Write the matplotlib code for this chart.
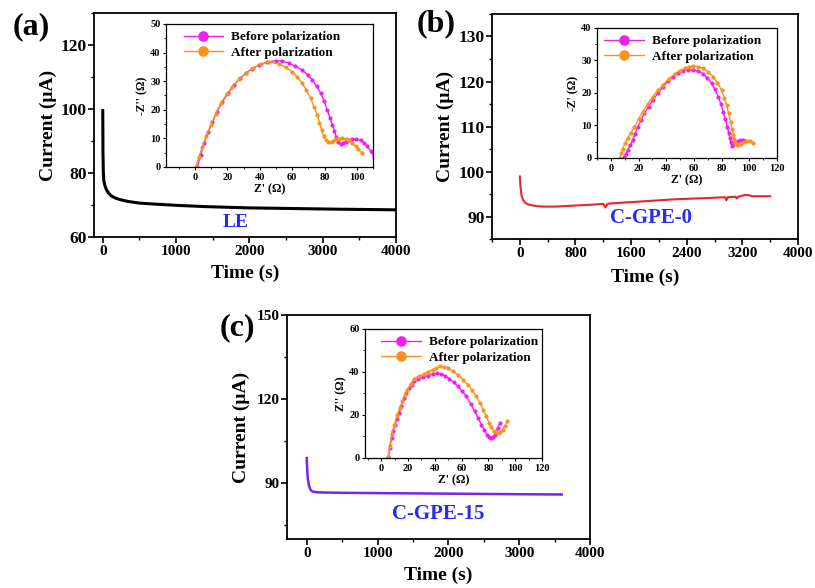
import numpy as np
import matplotlib
matplotlib.use("Agg")
import matplotlib.pyplot as plt
from matplotlib.ticker import MultipleLocator

plt.rcParams['font.family'] = ['Liberation Serif', 'DejaVu Serif']
plt.rcParams['font.weight'] = 'bold'
plt.rcParams['axes.labelweight'] = 'bold'

# ---------------- polarization current vs time ----------------
t_le = [0, 3, 8, 15, 30, 50, 80, 120, 180, 250, 350, 500, 700, 1000, 1400, 2000, 2600, 3200, 4000]
i_le = [99.5, 86, 80, 77.5, 76, 74.8, 73.7, 72.8, 72.1, 71.6, 71.1, 70.6, 70.3, 69.9, 69.5, 69.1, 68.9, 68.7, 68.5]

t_gpe0 = [0, 10, 25, 50, 80, 120, 170, 250, 360, 500, 750, 1000, 1200, 1230, 1260, 1300, 1500, 1700,
          2000, 2200, 2500, 2700, 2950, 2970, 2990, 3100, 3120, 3140, 3240, 3300, 3340, 3600]
i_gpe0 = [98.9, 96.5, 94.6, 93.6, 93.0, 92.7, 92.5, 92.3, 92.2, 92.2, 92.4, 92.6, 92.8, 92.0, 92.8, 92.9, 93.1, 93.3,
          93.6, 93.8, 94.0, 94.1, 94.3, 93.6, 94.3, 94.4, 94.0, 94.4, 94.8, 94.7, 94.5, 94.5]

t_gpe15 = [0, 5, 15, 30, 45, 60, 80, 110, 150, 250, 500, 1000, 1500, 2000, 2500, 3000, 3600]
i_gpe15 = [98.9, 95, 91.5, 89.2, 88.0, 87.4, 87.0, 86.8, 86.7, 86.6, 86.5, 86.4, 86.3, 86.2, 86.1, 86.0, 85.9]

# ---------------- Nyquist plots (Z', -Z'') ----------------
le_before_re = [1.4, 3.5, 5.6, 8, 10.7, 13.7, 16.9, 20.5, 24.1, 27.7, 31.3, 35.4, 39.5, 44.5, 49.8, 54, 58, 62, 66.2, 69.5,
                72.4, 75.2, 77.6, 79.8, 81.7, 83.3, 84.8, 86.1, 87.2, 88.5, 89.9, 91.5, 93, 95, 97.1, 99.7, 102.3,
                104.4, 106.4, 108.5, 110.5]
le_before_im = [0.1, 4.3, 8.3, 12.2, 15.8, 19.4, 22.8, 25.9, 28.7, 31, 32.8, 34.4, 35.7, 36.6, 37.2, 37, 36.3, 35.3, 33.9,
                32.3, 30.4, 28.2, 25.8, 22.9, 19.9, 17.3, 14.7, 12.6, 10.6, 8.9, 8.0, 8.3, 8.9, 9.4, 9.7, 9.7, 9.4,
                8.5, 7.3, 5.6, 3.6]
le_after_re = [0.4, 2.4, 4.5, 7, 9.7, 12.7, 15.9, 19.4, 23, 27.1, 31.3, 35.9, 40.5, 45.7, 51.9, 56, 60.1, 63.2, 66.2, 68.8,
               71.4, 73.5, 75.5, 76.9, 78.2, 79.4, 80.7, 82.2, 83.8, 85.3, 86.9, 88.9, 90.9, 93, 95, 97.1, 99.2, 101,
               102.9]
le_after_im = [0, 3.6, 7.1, 11, 14.7, 18.6, 22.3, 25.4, 28.1, 30.6, 32.8, 34.6, 36, 36.7, 36, 34.8, 33.3, 31.4, 29.3, 26.8,
               24, 21.1, 18.2, 15.5, 12.9, 10.9, 9.4, 8.9, 8.8, 9.2, 9.7, 9.9, 10, 9.8, 9.4, 8.5, 7.3, 6.2, 5.0]

g0_before_re = [9.7, 10.9, 12.1, 14, 15.8, 17.6, 19.4, 21.8, 24.2, 27.2, 30.3, 34, 37.6, 41.2, 44.9, 48.5, 52.1, 55.7,
                59.4, 63, 66.7, 69.7, 72.7, 75.2, 77.6, 79.4, 81.2, 82.7, 84.1, 85.1, 86, 86.7, 87.3, 88.5, 89.7, 91.5,
                93.3, 95.1, 96.9]
g0_before_im = [0.3, 1.3, 2.4, 3.9, 5.5, 7.5, 9.6, 11.6, 13.7, 15.8, 17.8, 19.9, 21.9, 23.6, 25, 26.1, 26.9, 27.1, 27.1,
                26.7, 25.9, 24.6, 23, 21.1, 18.9, 16.6, 14.2, 11.9, 9.6, 7.8, 6, 4.8, 3.6, 4.3, 4.9, 5.2, 5.5, 5.4, 5.3]
g0_after_re = [6.5, 7.5, 8.5, 10.3, 12.1, 14.5, 17, 20, 23, 26.6, 30.3, 34, 37.6, 41.8, 46, 49.6, 53.3, 56.3, 59.4, 63,
               66.7, 70.3, 74, 77, 80, 81.8, 83.6, 85, 86.5, 87.5, 88.5, 89.1, 89.7, 90.9, 92.1, 94, 95.8, 98.2, 100.6,
               103]
g0_after_im = [0.1, 1.5, 2.9, 4.5, 6, 7.8, 9.6, 11.9, 14.2, 16.6, 18.9, 20.8, 22.5, 24.3, 25.9, 26.9, 27.6, 28.1, 28.3,
               28.1, 27.6, 26.5, 25, 23.1, 20.9, 18.6, 16.3, 13.7, 11.1, 9, 7, 5.7, 4.5, 4.1, 3.9, 4.4, 4.9, 5.2, 5.3, 4.6]

g15_before_re = [5.3, 6.5, 7.8, 9, 10.3, 11.8, 13.3, 15.1, 17, 18.9, 20.8, 22.7, 24.6, 27.7, 30.9, 34.6, 38.4, 41.5, 44.7,
                 47.8, 50.9, 54.1, 57.3, 60.4, 63.5, 66.7, 69.8, 72.3, 74.8, 77, 79.1, 80.7, 82.3, 83.5, 84.8, 85.8,
                 86.9, 88.6]
g15_before_im = [0.3, 4.8, 9.3, 12.4, 15.5, 18.2, 20.9, 24.4, 27.9, 30.3, 32.6, 34.1, 35.6, 36.6, 37.5, 38.3, 39.1, 39.3,
                 39.1, 38.1, 36.9, 35.2, 33.3, 31.1, 28.7, 25.3, 21.7, 18.6, 15.5, 13.1, 10.8, 9.8, 9.3, 9.9, 10.8, 12.3,
                 14, 16.3]
g15_after_re = [5.3, 6.5, 7.8, 9.9, 12, 13.9, 15.8, 17.7, 19.6, 22.1, 24.6, 28.3, 32.1, 35.3, 38.4, 41.2, 43.9, 46.8, 49.7,
                53.5, 57.3, 61, 64.8, 67.9, 71, 73.6, 76.1, 78.3, 80.6, 82.3, 84.1, 85.7, 87.4, 89, 90.6, 92.4, 94.2]
g15_after_im = [0.3, 5.6, 11, 15.5, 20.1, 23.2, 26.3, 29.1, 31.8, 34.4, 36.9, 38.1, 39.1, 40.2, 41.1, 41.9, 42.6, 42.5,
                41.9, 40.4, 38.7, 36.5, 34.1, 31.5, 28.7, 25.6, 22.5, 19.4, 16.3, 14.3, 12.4, 11.9, 11.6, 12.3, 13.2,
                15, 17]

MAGENTA = '#f020f0'
ORANGE = '#f7931e'
BLUE = '#2b2bf0'


def style_main(ax, xlim, ylim, xmaj, xmin, ymaj, ymin, ylab_x, xlab_y, ytick_size):
    ax.set_xlim(*xlim)
    ax.set_ylim(*ylim)
    ax.xaxis.set_major_locator(MultipleLocator(xmaj))
    ax.xaxis.set_minor_locator(MultipleLocator(xmin))
    ax.yaxis.set_major_locator(MultipleLocator(ymaj))
    ax.yaxis.set_minor_locator(MultipleLocator(ymin))
    ax.tick_params(which='major', direction='out', length=4, width=1.2, top=False, right=False)
    ax.tick_params(which='minor', direction='out', length=2.5, width=1.0, top=False, right=False)
    ax.tick_params(axis='x', labelsize=11, pad=2)
    ax.tick_params(axis='y', labelsize=ytick_size, pad=1)
    for sp in ax.spines.values():
        sp.set_linewidth(1.3)
    ax.set_xlabel('Time (s)', fontsize=14, va='center')
    ax.set_ylabel('Current (\u03bcA)', fontsize=14, va='center')
    ax.xaxis.set_label_coords(0.5, xlab_y)
    ax.yaxis.set_label_coords(ylab_x, 0.5)


def style_inset(ax, xlim, ylim, ymaj, ylabel, leg_x):
    ax.set_xlim(*xlim)
    ax.set_ylim(*ylim)
    ax.xaxis.set_major_locator(MultipleLocator(20))
    ax.xaxis.set_minor_locator(MultipleLocator(10))
    ax.yaxis.set_major_locator(MultipleLocator(ymaj))
    ax.yaxis.set_minor_locator(MultipleLocator(ymaj / 2))
    ax.tick_params(which='major', direction='out', length=2.5, width=0.8, labelsize=7.5, pad=1.5,
                   top=False, right=False)
    ax.tick_params(which='minor', direction='out', length=1.5, width=0.6, top=False, right=False)
    for sp in ax.spines.values():
        sp.set_linewidth(0.9)
    ax.set_xlabel("Z' (\u03a9)", fontsize=8.5, labelpad=1)
    ax.set_ylabel(ylabel, fontsize=8.5, labelpad=1)
    ax.legend(loc='upper left', bbox_to_anchor=(leg_x, 1.0), frameon=False, fontsize=9.5,
              handlelength=3.0, handletextpad=0.6, labelspacing=0.25, markerscale=3.3,
              borderaxespad=0.15, numpoints=1)


def nyquist(ax, b_re, b_im, a_re, a_im):
    ax.plot(b_re, b_im, '-o', color=MAGENTA, lw=1.0, ms=2.0, label='Before polarization')
    ax.plot(a_re, a_im, '-o', color=ORANGE, lw=1.0, ms=2.0, label='After polarization')


fig = plt.figure(figsize=(8.15, 5.88), dpi=100)

# (a) liquid electrolyte
ax1 = fig.add_axes([0.1153, 0.5969, 0.3706, 0.381])
ax1.plot(t_le, i_le, color='black', lw=2.2)
style_main(ax1, (-120, 4000), (60, 130), 1000, 500, 20, 10, -0.152, -0.16, 12.5)
ax1.text(0.47, 0.065, 'LE', color=BLUE, fontsize=14, ha='center', va='center', transform=ax1.transAxes)

in1 = fig.add_axes([0.2037, 0.7160, 0.254, 0.2432])
nyquist(in1, le_before_re, le_before_im, le_after_re, le_after_im)
style_inset(in1, (-18, 110), (0, 50), 10, "-Z'' (\u03a9)", 0.05)

# (b) C-GPE-0
ax2 = fig.add_axes([0.6037, 0.5935, 0.3755, 0.3827])
ax2.plot(t_gpe0, i_gpe0, color='#e8262a', lw=1.5)
style_main(ax2, (-400, 4000), (85, 135), 800, 400, 10, 5, -0.154, -0.169, 12.5)
ax2.text(0.52, 0.095, 'C-GPE-0', color=BLUE, fontsize=15, ha='center', va='center', transform=ax2.transAxes)

in2 = fig.add_axes([0.7325, 0.7313, 0.2209, 0.2211])
nyquist(in2, g0_before_re, g0_before_im, g0_after_re, g0_after_im)
style_inset(in2, (-10, 120), (0, 40), 10, "-Z' (\u03a9)", 0.0)

# (c) C-GPE-15
ax3 = fig.add_axes([0.3521, 0.0833, 0.3718, 0.381])
ax3.plot(t_gpe15, i_gpe15, color='#7a22ee', lw=1.8)
style_main(ax3, (-280, 4000), (70, 150), 1000, 500, 30, 15, -0.15, -0.16, 11)
ax3.text(0.5, 0.11, 'C-GPE-15', color=BLUE, fontsize=15, ha='center', va='center', transform=ax3.transAxes)

in3 = fig.add_axes([0.4479, 0.2211, 0.2172, 0.2194])
nyquist(in3, g15_before_re, g15_before_im, g15_after_re, g15_after_im)
style_inset(in3, (-12, 120), (0, 60), 20, "Z'' (\u03a9)", 0.05)

# panel letters
fig.text(31 / 815, 1 - 27 / 588, '(a)', fontsize=23, ha='center', va='center')
fig.text(436 / 815, 1 - 24 / 588, '(b)', fontsize=23, ha='center', va='center')
fig.text(237 / 815, 1 - 328 / 588, '(c)', fontsize=23, ha='center', va='center')

fig.savefig('out.png', dpi=100)
